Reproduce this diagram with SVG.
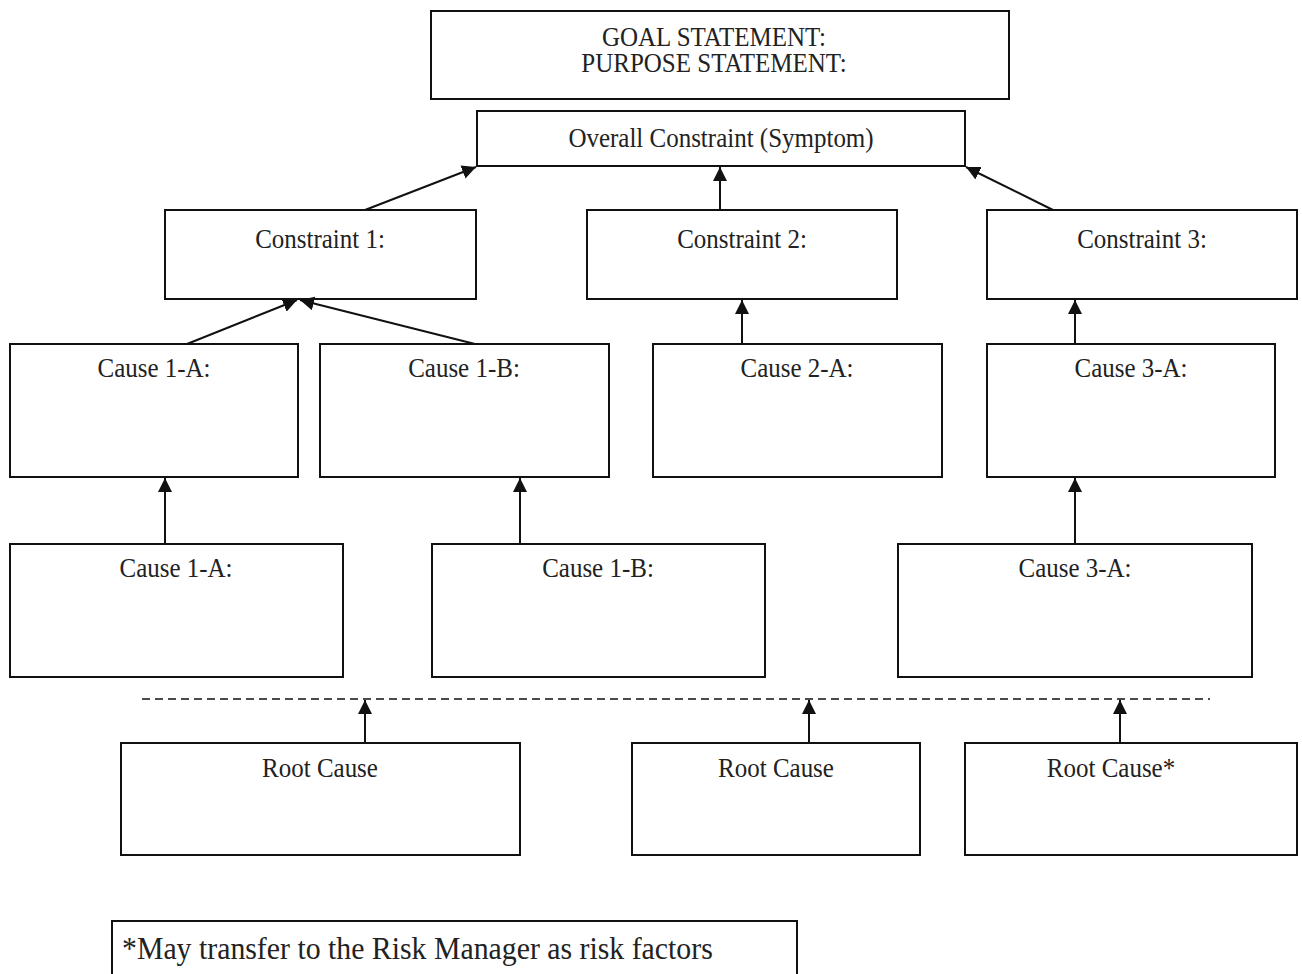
<svg xmlns="http://www.w3.org/2000/svg" width="1302" height="974" viewBox="0 0 1302 974">
  <style>
    .box { fill: #fff; stroke: #111; stroke-width: 2; }
    .lbl { font-family: "Liberation Serif", "Times New Roman", serif; font-size: 25px; fill: #222; text-anchor: middle; }
    .note { font-family: "Liberation Serif", "Times New Roman", serif; font-size: 29.8px; fill: #222; }
    .link { stroke: #111; stroke-width: 2; fill: none; marker-end: url(#head); }
    .dash { stroke: #111; stroke-width: 1.5; stroke-dasharray: 8 5; fill: none; }
  </style>
  <defs>
    <marker id="head" viewBox="0 0 14 14" refX="14" refY="7" markerWidth="14" markerHeight="14" markerUnits="userSpaceOnUse" orient="auto">
      <path d="M0,0 L14,7 L0,14 Z" fill="#111"/>
    </marker>
  </defs>

  <rect width="1302" height="974" fill="#fff"/>

  <!-- labels use a slightly tall serif face: scale(1,1.09) on each text -->
  <g id="goal">
    <rect class="box" x="431" y="11" width="578" height="88"/>
    <text class="lbl" transform="translate(714,46) scale(1,1.09)"><tspan x="0" y="0">GOAL STATEMENT:</tspan><tspan x="0" dy="23.9">PURPOSE STATEMENT:</tspan></text>
  </g>
  <g id="overall">
    <rect class="box" x="477" y="111" width="488" height="55"/>
    <text class="lbl" transform="translate(721,147) scale(1,1.09)">Overall Constraint (Symptom)</text>
  </g>

  <g id="constraint1"><rect class="box" x="165" y="210" width="311" height="89"/><text class="lbl" transform="translate(320,248) scale(1,1.09)">Constraint 1:</text></g>
  <g id="constraint2"><rect class="box" x="587" y="210" width="310" height="89"/><text class="lbl" transform="translate(742,248) scale(1,1.09)">Constraint 2:</text></g>
  <g id="constraint3"><rect class="box" x="987" y="210" width="310" height="89"/><text class="lbl" transform="translate(1142,248) scale(1,1.09)">Constraint 3:</text></g>

  <g id="cause1a-top"><rect class="box" x="10" y="344" width="288" height="133"/><text class="lbl" transform="translate(154,377) scale(1,1.09)">Cause 1-A:</text></g>
  <g id="cause1b-top"><rect class="box" x="320" y="344" width="289" height="133"/><text class="lbl" transform="translate(464,377) scale(1,1.09)">Cause 1-B:</text></g>
  <g id="cause2a"><rect class="box" x="653" y="344" width="289" height="133"/><text class="lbl" transform="translate(797,377) scale(1,1.09)">Cause 2-A:</text></g>
  <g id="cause3a-top"><rect class="box" x="987" y="344" width="288" height="133"/><text class="lbl" transform="translate(1131,377) scale(1,1.09)">Cause 3-A:</text></g>

  <g id="cause1a-low"><rect class="box" x="10" y="544" width="333" height="133"/><text class="lbl" transform="translate(176,577) scale(1,1.09)">Cause 1-A:</text></g>
  <g id="cause1b-low"><rect class="box" x="432" y="544" width="333" height="133"/><text class="lbl" transform="translate(598,577) scale(1,1.09)">Cause 1-B:</text></g>
  <g id="cause3a-low"><rect class="box" x="898" y="544" width="354" height="133"/><text class="lbl" transform="translate(1075,577) scale(1,1.09)">Cause 3-A:</text></g>

  <g id="root1"><rect class="box" x="121" y="743" width="399" height="112"/><text class="lbl" transform="translate(320,777) scale(1,1.09)">Root Cause</text></g>
  <g id="root2"><rect class="box" x="632" y="743" width="288" height="112"/><text class="lbl" transform="translate(776,777) scale(1,1.09)">Root Cause</text></g>
  <g id="root3"><rect class="box" x="965" y="743" width="332" height="112"/><text class="lbl" transform="translate(1111,777) scale(1,1.09)">Root Cause*</text></g>

  <g id="footnote">
    <rect class="box" x="112" y="921" width="685" height="70"/>
    <text class="note" transform="translate(122,959) scale(1,1.05)">*May transfer to the Risk Manager as risk factors</text>
  </g>

  <g id="connectors">
    <line class="link" x1="365" y1="210" x2="476" y2="167"/>
    <line class="link" x1="720" y1="210" x2="720" y2="167"/>
    <line class="link" x1="1053" y1="210" x2="966" y2="167"/>
    <line class="link" x1="187" y1="344" x2="297" y2="300"/>
    <line class="link" x1="475" y1="344" x2="300" y2="300"/>
    <line class="link" x1="742" y1="344" x2="742" y2="300"/>
    <line class="link" x1="1075" y1="344" x2="1075" y2="300"/>
    <line class="link" x1="165" y1="544" x2="165" y2="478"/>
    <line class="link" x1="520" y1="544" x2="520" y2="478"/>
    <line class="link" x1="1075" y1="544" x2="1075" y2="478"/>
    <line class="dash" x1="142" y1="699" x2="1210" y2="699"/>
    <line class="link" x1="365" y1="743" x2="365" y2="700"/>
    <line class="link" x1="809" y1="743" x2="809" y2="700"/>
    <line class="link" x1="1120" y1="743" x2="1120" y2="700"/>
  </g>
</svg>
